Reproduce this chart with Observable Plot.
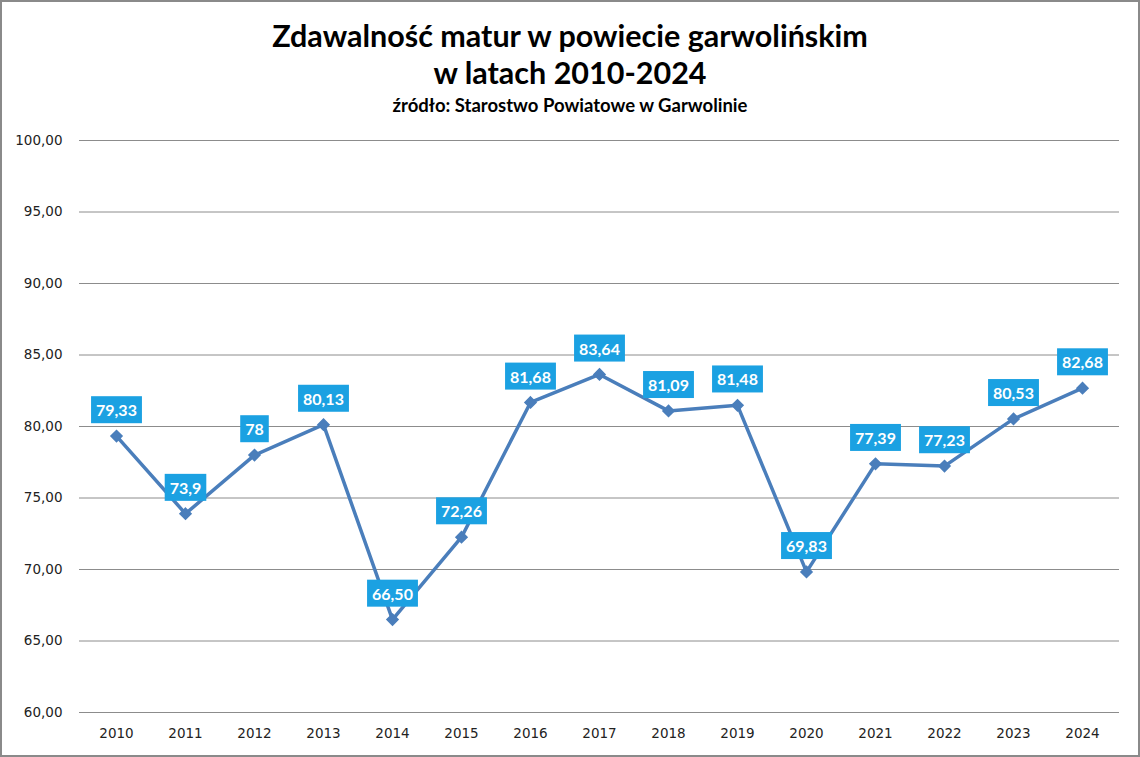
<!DOCTYPE html>
<html>
<head>
<meta charset="utf-8">
<script src="https://cdn.jsdelivr.net/npm/d3@7"></script>
<script src="https://cdn.jsdelivr.net/npm/@observablehq/plot@0.6"></script>
<style>
  html, body { margin: 0; padding: 0; background: #fff; }
  #frame { position: relative; width: 1140px; height: 757px; box-sizing: border-box; border: 2px solid #8a8a8a; overflow: hidden; background: #fff; }
  .t { position: absolute; left: 0; width: 100%; text-align: center; color: #000; font-family: Lato, "Open Sans", sans-serif; font-weight: bold; }
  #chart { position: absolute; left: 0; top: 118px; }
</style>
</head>
<body>
<div id="frame">
  <div class="t" style="top: 15px; font-size: 30.5px; line-height: 36px;">Zdawalność matur w powiecie garwolińskim</div>
  <div class="t" style="top: 52px; font-size: 30.5px; line-height: 36px;">w latach 2010-2024</div>
  <div class="t" style="top: 92px; font-size: 18.5px; line-height: 22px;">źródło: Starostwo Powiatowe w Garwolinie</div>
  <div id="chart"></div>
</div>
<script>
const years = ["2010","2011","2012","2013","2014","2015","2016","2017","2018","2019","2020","2021","2022","2023","2024"];
const values = [79.33, 73.9, 78, 80.13, 66.50, 72.26, 81.68, 83.64, 81.09, 81.48, 69.83, 77.39, 77.23, 80.53, 82.68];
const valueLabels = ["79,33","73,9","78","80,13","66,50","72,26","81,68","83,64","81,09","81,48","69,83","77,39","77,23","80,53","82,68"];
const yTicks = [60, 65, 70, 75, 80, 85, 90, 95, 100];

const data = years.map((y, i) => ({year: y, value: values[i], label: valueLabels[i]}));
const lineColor = "#4a7ebb";

const plot = Plot.plot({
  width: 1136,
  height: 635,
  marginTop: 20,
  marginBottom: 43,
  marginLeft: 77,
  marginRight: 19,
  style: {fontFamily: "'DejaVu Sans', Verdana, sans-serif", fontSize: "13.5px", color: "#222", background: "#fff"},
  x: {type: "point", domain: years, padding: 0.5, label: null},
  y: {domain: [60, 100], label: null},
  marks: [
    Plot.ruleY(yTicks, {stroke: "#8c8c8c", strokeWidth: 1}),
    Plot.axisY({ticks: yTicks, tickSize: 0, tickPadding: 17, tickFormat: d => d.toFixed(2).replace(".", ","), fontSize: 13.5}),
    Plot.axisX({tickSize: 0, tickPadding: 16, fontSize: 13.5}),
    Plot.line(data, {x: "year", y: "value", stroke: lineColor, strokeWidth: 3.5, strokeLinejoin: "round"}),
    Plot.dot(data, {x: "year", y: "value", symbol: "diamond2", r: 5, fill: lineColor, stroke: lineColor}),
    Plot.text(data, {x: "year", y: "value", text: "label", dy: -25, fill: "#fff", fontWeight: "bold", fontSize: 16, fontFamily: "Lato, 'Open Sans', sans-serif"})
  ]
});
document.getElementById("chart").appendChild(plot);

// add a filled box behind each value label, sized from the rendered text
const svg = document.querySelector("#chart svg");
svg.querySelectorAll('g[aria-label="text"] text').forEach(t => {
  const b = t.getBBox();
  const padX = 5, padY = 4;
  const r = document.createElementNS("http://www.w3.org/2000/svg", "rect");
  r.setAttribute("x", b.x - padX);
  r.setAttribute("y", b.y - padY);
  r.setAttribute("width", b.width + 2 * padX);
  r.setAttribute("height", b.height + 2 * padY);
  r.setAttribute("fill", "#1ba1e2");
  const tr = t.getAttribute("transform");
  if (tr) r.setAttribute("transform", tr);
  t.parentNode.insertBefore(r, t);
});
</script>
</body>
</html>
